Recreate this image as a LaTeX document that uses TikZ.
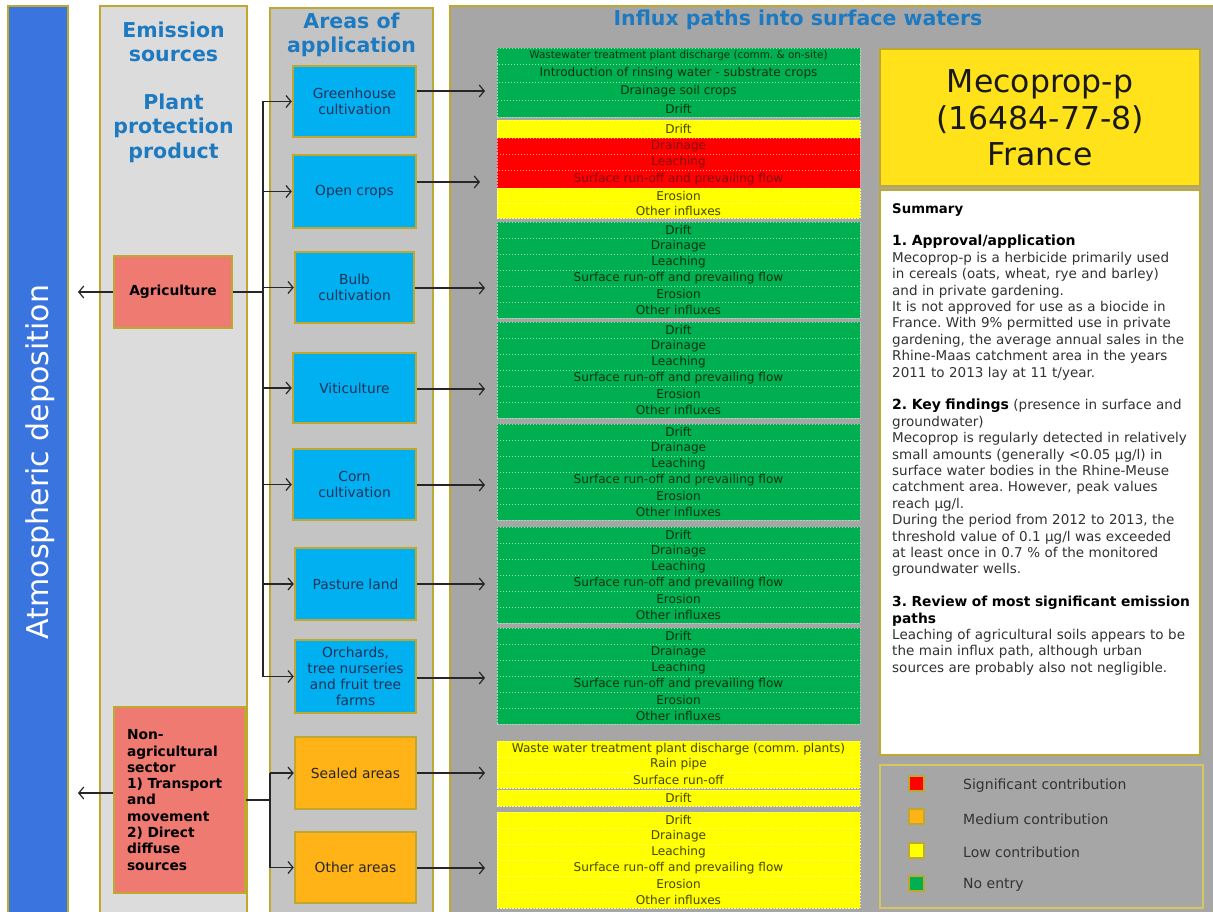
\documentclass[tikz,border=0pt]{standalone}
\usepackage{fontspec}
\setmainfont{DejaVu Sans}
\usetikzlibrary{arrows.meta}
\frenchspacing
\definecolor{gold}{RGB}{190,168,48}
\definecolor{goldlight}{RGB}{214,198,96}
\definecolor{atmblue}{RGB}{58,116,222}
\definecolor{emigray}{RGB}{220,220,220}
\definecolor{areagray}{RGB}{196,196,196}
\definecolor{influxgray}{RGB}{166,166,166}
\definecolor{hdrblue}{RGB}{30,122,192}
\definecolor{salmon}{RGB}{238,122,114}
\definecolor{cyanbox}{RGB}{0,176,240}
\definecolor{orangebox}{RGB}{255,179,22}
\definecolor{navy}{RGB}{30,50,90}
\definecolor{stripgreen}{RGB}{0,176,80}
\definecolor{stripyellow}{RGB}{255,255,0}
\definecolor{stripred}{RGB}{255,0,0}
\definecolor{txtgreen}{RGB}{8,50,20}
\definecolor{txtred}{RGB}{130,15,15}
\definecolor{txtyellow}{RGB}{70,70,0}
\definecolor{titleyellow}{RGB}{255,226,26}
\definecolor{bodygray}{RGB}{50,50,50}
\tikzset{
  panel/.style={draw=gold, line width=2pt, inner sep=0pt},
  hdr/.style={text=hdrblue, font=\fontsize{20.5}{24.5}\selectfont\bfseries, align=center, inner sep=0pt},
  abox/.style={draw=gold, line width=2.5pt, fill=cyanbox, align=center, text=navy, font=\fontsize{13.8}{16}\selectfont, inner sep=0pt},
  obox/.style={abox, fill=orangebox, text=black!85},
  sbox/.style={draw=gold, line width=2.5pt, fill=salmon, text=black, font=\fontsize{13.8}{16.3}\selectfont\bfseries, inner sep=0pt},
  arr/.style={-{Straight Barb[length=5pt,width=12pt]}, line width=1.2pt, draw=black!85},
  ln/.style={line width=1.2pt, draw=black!85},
  strip/.style={minimum width=363pt, inner sep=0pt, line width=0.9pt, dash pattern=on 1.5pt off 1.5pt, font=\fontsize{12.1}{12}\selectfont},
  sg/.style={strip, fill=stripgreen, draw=white!60!stripgreen, text=txtgreen},
  sy/.style={strip, fill=stripyellow, draw=white!60!stripyellow, text=txtyellow},
  sr/.style={strip, fill=stripred, draw=white!60!stripred, text=txtred},
  legsq/.style={draw=gold, line width=2pt, minimum size=15pt, inner sep=0pt},
  legtxt/.style={anchor=west, text=bodygray, font=\fontsize{14}{16}\selectfont, inner sep=0pt},
}
\begin{document}
\begin{tikzpicture}[x=1pt,y=-1pt]
\useasboundingbox (0,0) rectangle (1213,912);
\fill[white] (0,0) rectangle (1213,912);

% panels
\node[panel, fill=atmblue, minimum width=60pt, minimum height=924pt] (atm) at (38,468) {};
\node[panel, fill=emigray, minimum width=147pt, minimum height=924pt] (emi) at (173.5,468) {};
\node[panel, fill=areagray, minimum width=163pt, minimum height=922pt] (area) at (351.5,469) {};
\node[panel, fill=influxgray, minimum width=775pt, minimum height=924pt] (flux) at (837.5,468) {};

\node[rotate=90, text=white, font=\fontsize{30}{30}\selectfont] (atmtxt) at (40,462) {Atmospheric deposition};

% headers
\node[hdr] (h1) at (173.5,42) {Emission\\sources};
\node[hdr] (h2) at (173.5,128) {Plant\\protection\\product};
\node[hdr] (h3) at (351.5,35) {Areas of\\application};
\node[hdr] (h4) at (798,20) {Influx paths into surface waters};

% emission sources
\node[sbox, minimum width=118pt, minimum height=72pt] (ag) at (173,292) {Agriculture};
\node[sbox, minimum width=131pt, minimum height=186pt, text width=105pt, align=left] (na) at (179.5,800) {Non-\\agricultural\\sector\\1) Transport\\and\\movement\\2) Direct\\diffuse\\sources};

% areas of application
\node[abox, minimum width=123pt, minimum height=71pt] (gh) at (354.5,101.5) {Greenhouse\\cultivation};
\node[abox, minimum width=123pt, minimum height=73pt] (oc) at (354.5,191.5) {Open crops};
\node[abox, minimum width=119pt, minimum height=71pt] (bu) at (354.5,287.5) {Bulb\\cultivation};
\node[abox, minimum width=123pt, minimum height=70pt] (vi) at (354.5,388) {Viticulture};
\node[abox, minimum width=123pt, minimum height=71pt] (co) at (354.5,484.5) {Corn\\cultivation};
\node[abox, minimum width=121pt, minimum height=72pt] (pa) at (355.5,584) {Pasture land};
\node[abox, minimum width=121pt, minimum height=73pt] (orc) at (355.5,676.5) {Orchards,\\tree nurseries\\and fruit tree\\farms};
\node[obox, minimum width=121pt, minimum height=72pt] (se) at (355.5,773) {Sealed areas};
\node[obox, minimum width=121pt, minimum height=71pt] (ot) at (355.5,867.5) {Other areas};

% connectors left
\coordinate (agT) at (263,292);
\coordinate (agL) at (78,292);
\draw[arr] (ag.west) -- (agL);
\draw[ln] (ag.east) -- (agT);
\draw[ln] (agT |- gh.west) -- (agT |- orc.west);
\foreach \n in {gh,oc,bu,vi,co,pa,orc} \draw[arr] (agT |- \n.west) -- (\n.west);

\coordinate (naT) at (270,800);
\coordinate (naL) at (78,793);
\draw[arr] (na.west |- naL) -- (naL);
\draw[ln] (na.east) -- (naT);
\draw[ln] (naT |- se.west) -- (naT |- ot.west);
\draw[arr] (naT |- se.west) -- (se.west);
\draw[arr] (naT |- ot.west) -- (ot.west);

% connectors right
\coordinate (e1) at (485,91);
\coordinate (e2) at (480,182);
\coordinate (e3) at (485,288);
\coordinate (e4) at (485,389);
\coordinate (e5) at (485,485);
\coordinate (e6) at (485,584);
\coordinate (e7) at (485,678);
\coordinate (e8) at (485,773);
\coordinate (e9) at (485,868);
\draw[arr] (gh.east |- e1) -- (e1);
\draw[arr] (oc.east |- e2) -- (e2);
\draw[arr] (bu.east |- e3) -- (e3);
\draw[arr] (vi.east |- e4) -- (e4);
\draw[arr] (co.east |- e5) -- (e5);
\draw[arr] (pa.east |- e6) -- (e6);
\draw[arr] (orc.east |- e7) -- (e7);
\draw[arr] (se.east |- e8) -- (e8);
\draw[arr] (ot.east |- e9) -- (e9);

% strips
\foreach \y/\h/\c/\t [count=\i] in {
  56/16/sg/{\fontsize{10.4}{10}\selectfont Wastewater treatment plant discharge (comm. \& on-site)},
  73/18/sg/Introduction of rinsing water - substrate crops,
  91/18/sg/Drainage soil crops,
  108.5/17/sg/Drift,
  129/18/sy/Drift,
  146/16/sr/Drainage,
  162/16/sr/Leaching,
  179/18/sr/Surface run-off and prevailing flow,
  195.5/15/sy/Erosion,
  210.5/15/sy/Other influxes,
  230/16/sg/Drift, 246/16/sg/Drainage, 262/16/sg/Leaching, 278/16/sg/Surface run-off and prevailing flow, 294/16/sg/Erosion, 310/16/sg/Other influxes,
  330/16/sg/Drift, 346/16/sg/Drainage, 362/16/sg/Leaching, 378/16/sg/Surface run-off and prevailing flow, 394/16/sg/Erosion, 410/16/sg/Other influxes,
  432/16/sg/Drift, 448/16/sg/Drainage, 464/16/sg/Leaching, 480/16/sg/Surface run-off and prevailing flow, 496/16/sg/Erosion, 512/16/sg/Other influxes,
  535/16/sg/Drift, 551/16/sg/Drainage, 567/16/sg/Leaching, 583/16/sg/Surface run-off and prevailing flow, 599/16/sg/Erosion, 615/16/sg/Other influxes,
  636/16/sg/Drift, 652/16/sg/Drainage, 668/16/sg/Leaching, 684/16/sg/Surface run-off and prevailing flow, 700/16/sg/Erosion, 716/16/sg/Other influxes,
  749/16/sy/Waste water treatment plant discharge (comm. plants),
  764.5/15/sy/Rain pipe,
  780/16/sy/Surface run-off,
  798/16/sy/Drift,
  820/16/sy/Drift, 836/16/sy/Drainage, 852/16/sy/Leaching, 868/16/sy/Surface run-off and prevailing flow, 884/16/sy/Erosion, 900/16/sy/Other influxes}
  \node[\c, minimum height=\h] (s\i) at (678.5,\y) {\t};

% title
\node[draw=gold, line width=2pt, fill=titleyellow, minimum width=320pt, minimum height=137pt, align=center, font=\fontsize{31.5}{36.5}\selectfont, text=black!90, inner sep=0pt] (title) at (1040,118) {Mecoprop-p\\(16484-77-8)\\France};

% summary
\node[draw=gold, line width=2pt, fill=white, minimum width=320pt, minimum height=565pt, inner sep=0pt] (sum) at (1040,472.5) {};
\node[anchor=north west, inner sep=0pt, text width=312pt, align=left, text=bodygray, font=\fontsize{13.5}{16.4}\selectfont] (sumtxt) at (892,203) {%
{\color{black}\bfseries\fontsize{13.3}{16.4}\selectfont Summary}\\
\mbox{}\\
{\color{black}\bfseries\fontsize{14}{16.4}\selectfont 1. Approval/application}\\
Mecoprop-p is a herbicide primarily used\\
in cereals (oats, wheat, rye and barley)\\
and in private gardening.\\
It is not approved for use as a biocide in\\
France. With 9\% permitted use in private\\
gardening, the average annual sales in the\\
Rhine-Maas catchment area in the years\\
2011 to 2013 lay at 11 t/year.\\
\mbox{}\\
{\color{black}\bfseries\fontsize{14}{16.4}\selectfont 2. Key findings} (presence in surface and\\
groundwater)\\
Mecoprop is regularly detected in relatively\\
small amounts (generally <0.05 µg/l) in\\
surface water bodies in the Rhine-Meuse\\
catchment area. However, peak values\\
reach µg/l.\\
During the period from 2012 to 2013, the\\
threshold value of 0.1 µg/l was exceeded\\
at least once in 0.7 \% of the monitored\\
groundwater wells.\\
\mbox{}\\
{\color{black}\bfseries\fontsize{13.8}{16.4}\selectfont 3. Review of most significant emission}\\
{\color{black}\bfseries\fontsize{13.8}{16.4}\selectfont paths}\\
Leaching of agricultural soils appears to be\\
the main influx path, although urban\\
sources are probably also not negligible.};

% legend
\node[draw=goldlight, line width=1.5pt, fill=influxgray, minimum width=323pt, minimum height=143pt, inner sep=0pt] (leg) at (1041.5,836.5) {};
\node[legsq, fill=stripred] (l1) at (916,783) {};
\node[legsq, fill=orangebox] (l2) at (916,816) {};
\node[legsq, fill=stripyellow] (l3) at (916,850) {};
\node[legsq, fill=stripgreen] (l4) at (916,883) {};
\node[legtxt] (t1) at (963,786) {Significant contribution};
\node[legtxt] (t2) at (963,819) {Medium contribution};
\node[legtxt] (t3) at (963,852) {Low contribution};
\node[legtxt] (t4) at (963,885) {No entry};
\end{tikzpicture}
\end{document}
